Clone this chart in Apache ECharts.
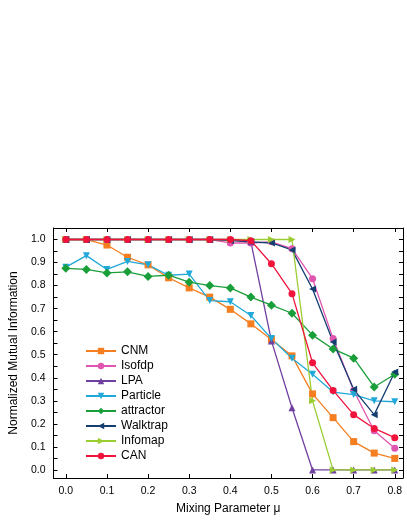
<!DOCTYPE html><html><head><meta charset="utf-8"><script src="https://cdn.jsdelivr.net/npm/echarts@6/dist/echarts.min.js"></script></head><body style="margin:0"><div id="c" style="width:407px;height:527px"></div><script>
const xs=[0,0.05,0.1,0.15,0.2,0.25,0.3,0.35,0.4,0.45,0.5,0.55,0.6,0.65,0.7,0.75,0.8];
const names=['CNM','Isofdp','LPA','Particle','attractor','Walktrap','Infomap','CAN'];
const CNM=[1,1,0.976,0.923,0.89,0.834,0.79,0.75,0.697,0.634,0.566,0.495,0.33,0.227,0.123,0.073,0.05];
const Isofdp=[1,1,1,1,1,1,1,1,0.985,0.985,0.99,0.96,0.83,0.57,0.345,0.17,0.094];
const LPA=[1,1,1,1,1,1,1,1,1,0.99,0.56,0.27,0,0,0,0,0];
const Particle=[0.88,0.93,0.87,0.905,0.89,0.845,0.85,0.735,0.73,0.67,0.57,0.485,0.415,0.338,0.327,0.30,0.296];
const attractor=[0.875,0.87,0.855,0.86,0.84,0.845,0.815,0.8,0.79,0.75,0.715,0.68,0.585,0.525,0.485,0.36,0.415];
const Walktrap=[1,1,1,1,1,1,1,1,0.995,0.99,0.985,0.955,0.785,0.555,0.35,0.24,0.425];
const Infomap=[1,1,1,1,1,1,1,1,1,1,1,1,0.3,0,0,0,0];
const CAN=[1,1,1,1,1,1,1,1,1,0.995,0.895,0.765,0.465,0.345,0.24,0.18,0.14];
const data=[CNM,Isofdp,LPA,Particle,attractor,Walktrap,Infomap,CAN];
const colors=['#F57F20','#E055B0','#7040A0','#1FA8D8','#1A9E3A','#153E70','#9ACD32','#F0143C'];
const syms=['rect','circle','triangle','path://M0,0L10,0L5,10Z','diamond','path://M10,0L10,10L0,5Z','path://M0,0L10,5L0,10Z','circle'];
const series=names.map((n,i)=>({name:n,type:'line',data:xs.map((x,j)=>[x,data[i][j]]),symbol:syms[i],symbolSize:i==4?9:7,
 lineStyle:{color:colors[i],width:1.3},itemStyle:{color:colors[i]},z:i==7?10:2}));
const xt=[0,0.1,0.2,0.3,0.4,0.5,0.6,0.7,0.8];
const yt=[0,0.05,0.1,0.15,0.2,0.25,0.3,0.35,0.4,0.45,0.5,0.55,0.6,0.65,0.7,0.75,0.8,0.85,0.9,0.95,1.0];
const yl=[0,0.1,0.2,0.3,0.4,0.5,0.6,0.7,0.8,0.9,1.0];
const ax={axisLine:{show:true,onZero:false,lineStyle:{color:'#000'}},axisTick:{inside:true,length:4,lineStyle:{color:'#000'}},minorTick:{show:false},splitLine:{show:false},axisLabel:{color:'#000',fontSize:10.5,fontFamily:'Liberation Sans'}};
const nts={fontSize:12,color:'#000',fontFamily:'Liberation Sans'};
const chart=echarts.init(document.getElementById('c'));
chart.setOption({animation:false,
 grid:{left:52,right:4,top:228,bottom:49},
 legend:{orient:'vertical',left:80,top:340,itemGap:3,itemWidth:30,itemHeight:8,textStyle:{fontSize:12,color:'#000',fontFamily:'Liberation Sans'},data:names},
 xAxis:[{type:'value',min:-0.03,max:0.82,...ax,axisLabel:{...ax.axisLabel,formatter:v=>v.toFixed(1),customValues:xt},axisTick:{...ax.axisTick,customValues:xt},name:'Mixing Parameter μ',nameLocation:'middle',nameGap:25,nameTextStyle:nts},
  {type:'value',position:'top',min:-0.03,max:0.82,...ax,axisLabel:{show:false},axisTick:{...ax.axisTick,customValues:xt}}],
 yAxis:[{type:'value',min:-0.035,max:1.05,...ax,axisLabel:{...ax.axisLabel,formatter:v=>v.toFixed(1),customValues:yl},axisTick:{...ax.axisTick,customValues:yt},name:'Normalized Mutual Information',nameLocation:'middle',nameGap:30,nameTextStyle:nts},
  {type:'value',position:'right',min:-0.035,max:1.05,...ax,axisLabel:{show:false},axisTick:{...ax.axisTick,customValues:yt}}],
 series});
</script></body></html>
